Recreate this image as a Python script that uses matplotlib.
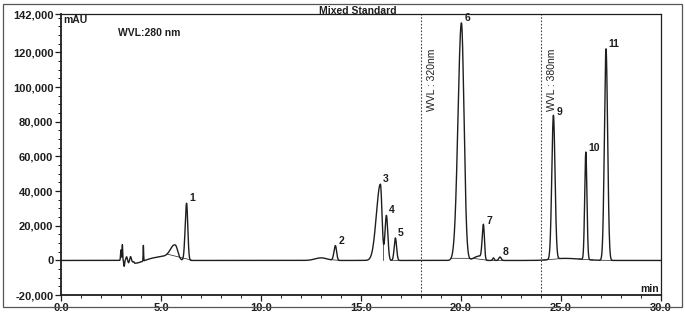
import numpy as np
import matplotlib
matplotlib.use("Agg")
import matplotlib.pyplot as plt
from matplotlib.patches import Rectangle

plt.rcParams['font.family'] = ['Liberation Sans', 'DejaVu Sans']

# numbered peaks: retention time (min), height (mAU)
peak_ids = ['1', '2', '3', '4', '5', '6', '7', '8', '9', '10', '11']
peak_rt = [6.28, 13.72, 15.97, 16.27, 16.72, 20.02, 21.12, 21.95, 24.62, 26.24, 27.25]
peak_height = [33000, 8500, 44000, 26000, 13000, 137000, 20000, 2000, 83000, 62000, 122000]
peak_sig_left = [0.07, 0.07, 0.20, 0.07, 0.06, 0.17, 0.06, 0.06, 0.08, 0.055, 0.08]
peak_sig_right = [0.06, 0.06, 0.08, 0.07, 0.06, 0.13, 0.05, 0.06, 0.08, 0.055, 0.08]

# small unlabelled features (solvent front spikes, humps)
minor_rt = [3.00, 3.07, 3.16, 3.28, 3.38, 3.48, 3.58, 3.70, 4.12, 5.45, 5.72, 13.0, 20.9, 21.62, 25.2]
minor_height = [6000, 9000, -3500, 2000, -1500, 2000, -1000, -2000, 9000, 2500, 7500, 1500, 2500, 1500, 1200]
minor_sig_left = [0.02, 0.015, 0.02, 0.03, 0.03, 0.03, 0.03, 0.05, 0.012, 0.9, 0.22, 0.3, 0.25, 0.04, 0.6]
minor_sig_right = [0.02, 0.015, 0.02, 0.03, 0.03, 0.03, 0.03, 0.4, 0.012, 0.25, 0.12, 0.3, 0.15, 0.04, 0.8]

# integration baseline segments drawn by the software (start, end in min)
base_segments = [(5.3, 6.6), (13.5, 13.95), (16.5, 16.95), (19.5, 20.6),
                 (20.6, 21.4), (21.5, 22.1), (24.1, 25.1), (25.9, 26.6), (26.9, 27.7)]
# vertical drop lines between fused peaks (min)
drop_lines = [6.05, 16.12, 16.5]

t = np.linspace(0, 30, 9001)


def bigauss(x, c, h, sl, sr):
    s = np.where(x < c, sl, sr)
    return h * np.exp(-0.5 * ((x - c) / s) ** 2)


signal = np.zeros_like(t)
for c, h, sl, sr in zip(peak_rt, peak_height, peak_sig_left, peak_sig_right):
    signal += bigauss(t, c, h, sl, sr)
for c, h, sl, sr in zip(minor_rt, minor_height, minor_sig_left, minor_sig_right):
    signal += bigauss(t, c, h, sl, sr)

fig = plt.figure(figsize=(6.85, 3.16), dpi=100)
ax = fig.add_axes([0.089, 0.066, 0.876, 0.889])
ink = '#1e1e1e'

ax.plot(t, signal, color=ink, lw=1.0)
for a, b in base_segments:
    ya = np.interp(a, t, signal)
    yb = np.interp(b, t, signal)
    ax.plot([a, b], [ya, yb], color=ink, lw=0.5)
for xd in drop_lines:
    ax.plot([xd, xd], [0, np.interp(xd, t, signal)], color=ink, lw=0.5)

for pid, c, h in zip(peak_ids, peak_rt, peak_height):
    ax.annotate(pid, (c, h), xytext=(2, 0), textcoords='offset points',
                ha='left', va='bottom', fontsize=7.5, fontweight='bold', color=ink)

# wavelength switch markers
for x0, lab in [(18.0, 'WVL : 320nm'), (24.0, 'WVL : 380nm')]:
    ax.axvline(x0, color='#444444', lw=0.8, ls=(0, (1.5, 1.5)))
    ax.text(x0 + 0.55, 104000, lab, rotation=90, ha='center', va='center',
            fontsize=7.5, color=ink, fontstretch='condensed')

ax.set_xlim(0, 30)
ax.set_ylim(-20000, 142000)
xt = [0, 5, 10, 15, 20, 25, 30]
ax.set_xticks(xt)
ax.set_xticklabels(['%.1f' % v for v in xt])
ax.set_xticks(np.arange(0, 31, 1), minor=True)
yt = [-20000, 0, 20000, 40000, 60000, 80000, 100000, 120000, 142000]
ax.set_yticks(yt)
ax.set_yticklabels(['{:,}'.format(v) for v in yt])
ax.set_yticks(np.arange(-20000, 142001, 5000), minor=True)
ax.tick_params(axis='both', which='major', labelsize=8, length=4, width=0.9, colors=ink, pad=1.5)
ax.tick_params(axis='both', which='minor', length=2, width=0.7, colors=ink)
for lb in ax.get_xticklabels() + ax.get_yticklabels():
    lb.set_fontweight('bold')
for sp in ax.spines.values():
    sp.set_linewidth(0.9)
    sp.set_color(ink)
ax.spines['left'].set_linewidth(1.3)
ax.spines['bottom'].set_linewidth(1.3)

ax.text(0.003, 0.998, 'mAU', transform=ax.transAxes, ha='left', va='top',
        fontsize=7.5, fontweight='bold', color=ink)
ax.text(2.85, 131000, 'WVL:280 nm', ha='left', va='center', fontsize=7.5,
        fontweight='bold', color=ink)
ax.text(0.997, 0.005, 'min', transform=ax.transAxes, ha='right', va='bottom',
        fontsize=7.5, fontweight='bold', color=ink)

fig.text(0.522, 0.964, 'Mixed Standard', ha='center', va='center', fontsize=7.5,
         fontweight='bold', color=ink)
fig.patches.append(Rectangle((0.004, 0.03), 0.991, 0.957, transform=fig.transFigure,
                             fill=False, ec='#555555', lw=0.9))

fig.savefig('out.png', dpi=100)
